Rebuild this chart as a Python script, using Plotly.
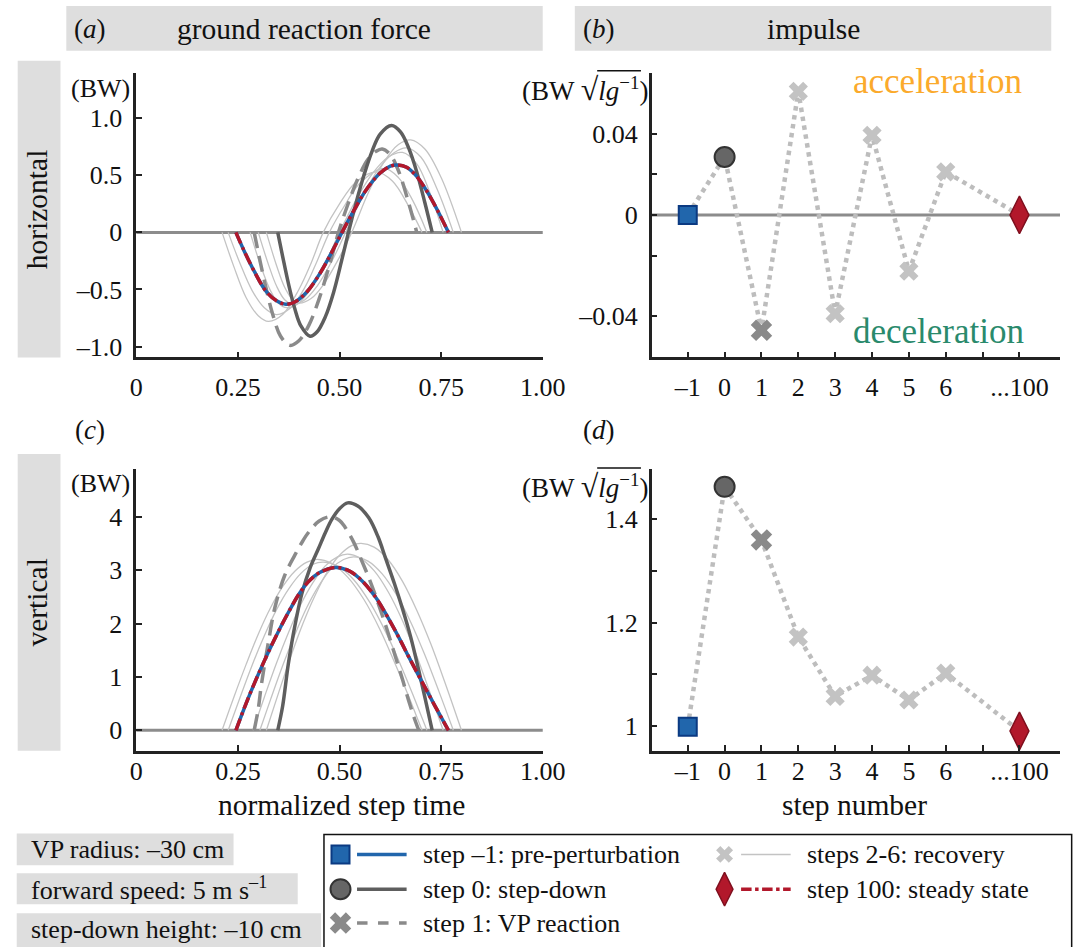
import plotly.graph_objects as go

W, H = 1083, 947
FONT = "Liberation Serif"

# ------------------------------------------------------------------ data
# (a) horizontal ground reaction force (BW) vs normalized step time
hz_pre_t = [0.245, 0.265, 0.29, 0.32, 0.345, 0.368, 0.39, 0.42, 0.45, 0.48, 0.506,
            0.535, 0.565, 0.60, 0.625, 0.642, 0.665, 0.69, 0.715, 0.74, 0.768]
hz_pre_f = [0, -0.16, -0.34, -0.52, -0.60, -0.63, -0.61, -0.52, -0.37, -0.18, 0,
            0.19, 0.37, 0.52, 0.58, 0.59, 0.57, 0.49, 0.36, 0.20, 0]
hz_ss_t = hz_pre_t
hz_ss_f = [0, -0.16, -0.34, -0.52, -0.60, -0.63, -0.61, -0.52, -0.37, -0.18, 0,
           0.19, 0.37, 0.52, 0.58, 0.59, 0.57, 0.49, 0.36, 0.20, 0]
hz_s0_t = [0.348, 0.36, 0.375, 0.39, 0.405, 0.4275, 0.445, 0.465, 0.485, 0.505, 0.522,
           0.54, 0.56, 0.58, 0.60, 0.628, 0.65, 0.67, 0.69, 0.71, 0.728]
hz_s0_f = [0, -0.21, -0.46, -0.67, -0.82, -0.91, -0.87, -0.74, -0.53, -0.25, 0,
           0.25, 0.50, 0.71, 0.86, 0.936, 0.88, 0.74, 0.53, 0.26, 0]
hz_s1_t = [0.29, 0.305, 0.32, 0.335, 0.355, 0.378, 0.40, 0.425, 0.45, 0.475, 0.4975,
           0.52, 0.545, 0.57, 0.59, 0.605, 0.625, 0.645, 0.67, 0.69]
hz_s1_f = [0, -0.26, -0.50, -0.71, -0.91, -0.99, -0.95, -0.81, -0.58, -0.29, 0,
           0.24, 0.47, 0.64, 0.71, 0.73, 0.68, 0.54, 0.26, 0]
hz_rec_t = [
    [0.211, 0.24, 0.27, 0.30, 0.325, 0.36, 0.40, 0.43, 0.46, 0.50, 0.54, 0.59, 0.63, 0.67, 0.703],
    [0.226, 0.255, 0.285, 0.315, 0.345, 0.38, 0.415, 0.445, 0.475, 0.51, 0.55, 0.61, 0.645, 0.68, 0.715],
    [0.28, 0.305, 0.33, 0.35, 0.37, 0.40, 0.43, 0.465, 0.50, 0.54, 0.58, 0.62, 0.655, 0.69, 0.72, 0.755],
    [0.30, 0.325, 0.345, 0.365, 0.385, 0.415, 0.445, 0.48, 0.515, 0.555, 0.595, 0.635, 0.665, 0.70, 0.74, 0.78],
    [0.32, 0.345, 0.365, 0.385, 0.40, 0.43, 0.46, 0.495, 0.53, 0.57, 0.61, 0.645, 0.675, 0.71, 0.75, 0.80],
]
hz_rec_f = [
    [0, -0.30, -0.57, -0.73, -0.78, -0.72, -0.50, -0.27, 0, 0.25, 0.44, 0.53, 0.45, 0.23, 0],
    [0, -0.27, -0.51, -0.66, -0.72, -0.66, -0.48, -0.25, 0, 0.22, 0.43, 0.56, 0.48, 0.28, 0],
    [0, -0.28, -0.51, -0.62, -0.66, -0.62, -0.49, -0.27, 0, 0.28, 0.51, 0.66, 0.70, 0.60, 0.37, 0],
    [0, -0.28, -0.47, -0.59, -0.63, -0.59, -0.47, -0.26, 0, 0.30, 0.55, 0.70, 0.74, 0.66, 0.38, 0],
    [0, -0.29, -0.48, -0.59, -0.62, -0.58, -0.46, -0.25, 0, 0.34, 0.62, 0.77, 0.81, 0.73, 0.48, 0],
]

# (c) vertical ground reaction force (BW)
vt_pre_t = [0.245, 0.27, 0.29, 0.315, 0.341, 0.37, 0.40, 0.423, 0.45, 0.49, 0.52,
            0.55, 0.588, 0.62, 0.65, 0.67, 0.70, 0.736, 0.768]
vt_pre_f = [0, 0.5, 0.87, 1.3, 1.72, 2.15, 2.55, 2.78, 2.95, 3.05, 3.0,
            2.84, 2.5, 2.1, 1.68, 1.38, 0.95, 0.44, 0]
vt_ss_t = vt_pre_t
vt_ss_f = [0, 0.5, 0.87, 1.3, 1.72, 2.15, 2.55, 2.78, 2.95, 3.05, 3.0,
           2.84, 2.5, 2.1, 1.68, 1.38, 0.95, 0.44, 0]
vt_s0_t = [0.348, 0.36, 0.374, 0.39, 0.407, 0.428, 0.448, 0.465, 0.481, 0.50, 0.52,
           0.545, 0.572, 0.595, 0.613, 0.635, 0.654, 0.675, 0.695, 0.712, 0.728]
vt_s0_f = [0, 0.45, 1.24, 1.95, 2.55, 3.05, 3.4, 3.7, 3.95, 4.15, 4.26,
           4.2, 3.98, 3.62, 3.23, 2.75, 2.3, 1.75, 1.12, 0.55, 0]
vt_s1_t = [0.29, 0.30, 0.308, 0.325, 0.341, 0.365, 0.39, 0.41, 0.423, 0.45, 0.477,
           0.50, 0.514, 0.535, 0.555, 0.575, 0.596, 0.618, 0.638, 0.655, 0.67, 0.683, 0.695]
vt_s1_f = [0, 0.4, 0.87, 1.65, 2.3, 2.9, 3.28, 3.55, 3.7, 3.92, 4.0,
           3.93, 3.8, 3.52, 3.17, 2.8, 2.36, 1.86, 1.37, 0.95, 0.56, 0.25, 0]
vt_rec_t = [
    [0.211, 0.24, 0.27, 0.30, 0.33, 0.36, 0.39, 0.42, 0.445, 0.48, 0.52, 0.56, 0.60, 0.64, 0.67, 0.703],
    [0.226, 0.255, 0.285, 0.315, 0.345, 0.375, 0.405, 0.435, 0.46, 0.495, 0.535, 0.575, 0.615, 0.655, 0.685, 0.715],
    [0.287, 0.315, 0.345, 0.375, 0.405, 0.435, 0.465, 0.495, 0.52, 0.55, 0.585, 0.62, 0.655, 0.69, 0.72, 0.755],
    [0.304, 0.33, 0.36, 0.39, 0.42, 0.45, 0.48, 0.51, 0.535, 0.57, 0.605, 0.64, 0.675, 0.71, 0.745, 0.78],
    [0.32, 0.35, 0.38, 0.41, 0.44, 0.47, 0.50, 0.53, 0.553, 0.585, 0.62, 0.655, 0.69, 0.725, 0.76, 0.80],
]
vt_rec_f = [
    [0, 0.62, 1.23, 1.80, 2.29, 2.69, 2.98, 3.15, 3.2, 3.13, 2.87, 2.45, 1.88, 1.19, 0.64, 0],
    [0, 0.61, 1.22, 1.77, 2.26, 2.65, 2.94, 3.11, 3.15, 3.08, 2.82, 2.39, 1.82, 1.14, 0.58, 0],
    [0, 0.62, 1.26, 1.84, 2.36, 2.77, 3.08, 3.25, 3.3, 3.23, 2.99, 2.59, 2.05, 1.39, 0.76, 0],
    [0, 0.57, 1.21, 1.79, 2.31, 2.72, 3.03, 3.20, 3.25, 3.17, 2.93, 2.54, 2.03, 1.41, 0.72, 0],
    [0, 0.70, 1.38, 2.00, 2.53, 2.97, 3.28, 3.46, 3.5, 3.43, 3.19, 2.79, 2.25, 1.61, 0.88, 0],
]

# (b), (d) impulse per step (BW sqrt(l/g))
step_x = [-1, 0, 1, 2, 3, 4, 5, 6, 8]           # 8 stands for step 100
impulse_horizontal = [0.0, 0.0285, -0.0568, 0.0608, -0.0486, 0.0392, -0.0277, 0.0212, 0.0]
impulse_vertical = [0.998, 1.463, 1.360, 1.172, 1.057, 1.098, 1.050, 1.102, 0.990]
step_tick_vals = [-1, 0, 1, 2, 3, 4, 5, 6, 7, 8]
step_tick_text = ["–1", "0", "1", "2", "3", "4", "5", "6", " ", "...100"]

time_tick_vals = [0, 0.25, 0.5, 0.75, 1.0]
time_tick_text = ["0", "0.25", "0.50", "0.75", "1.00"]
hz_tick_vals = [-1.0, -0.5, 0, 0.5, 1.0]
hz_tick_text = ["–1.0", "–0.5", "0", "0.5", "1.0"]
vt_tick_vals = [0, 1, 2, 3, 4]
vt_tick_text = ["0", "1", "2", "3", "4"]
# the reference draws its lowest labelled tick ("–0.04") lower than the even tick spacing
ih_tick_vals = [-0.0499, -0.02, 0, 0.02, 0.04]
ih_tick_text = ["–0.04", " ", "0", " ", "0.04"]
iv_tick_vals = [1.0, 1.1, 1.2, 1.3, 1.4]
iv_tick_text = ["1", " ", "1.2", " ", "1.4"]

# ------------------------------------------------------------------ styles
BLUE = "#2166ac"
RED = "#b2182b"
DARK = "#5e5e5e"
MID = "#8a8a8a"
LIGHT = "#c3c3c3"
DOT = "#bdbdbd"
ZERO = "#8c8c8c"
AX = "#222222"
BAR = "#dedede"


def px(x):
    return x / W


def py(y):
    return 1 - y / H


fig = go.Figure()


def grf_traces(xa, ya, rec_t, rec_f, s1_t, s1_f, s0_t, s0_f, pre_t, pre_f, ss_t, ss_f):
    for t, f in zip(rec_t, rec_f):
        fig.add_trace(go.Scatter(x=t, y=f, mode="lines", line=dict(color=LIGHT, width=1.3, shape="spline"),
                                 xaxis=xa, yaxis=ya, showlegend=False, hoverinfo="skip"))
    fig.add_trace(go.Scatter(x=s1_t, y=s1_f, mode="lines",
                             line=dict(color=MID, width=3.5, dash="16px,8px", shape="spline"),
                             xaxis=xa, yaxis=ya, showlegend=False))
    fig.add_trace(go.Scatter(x=s0_t, y=s0_f, mode="lines", line=dict(color=DARK, width=3.5, shape="spline"),
                             xaxis=xa, yaxis=ya, showlegend=False))
    fig.add_trace(go.Scatter(x=pre_t, y=pre_f, mode="lines", line=dict(color=BLUE, width=3.5, shape="spline"),
                             xaxis=xa, yaxis=ya, showlegend=False))
    fig.add_trace(go.Scatter(x=ss_t, y=ss_f, mode="lines",
                             line=dict(color=RED, width=3.5, dash="12px,4px,3px,4px", shape="spline"),
                             xaxis=xa, yaxis=ya, showlegend=False))


grf_traces("x", "y", hz_rec_t, hz_rec_f, hz_s1_t, hz_s1_f, hz_s0_t, hz_s0_f,
           hz_pre_t, hz_pre_f, hz_ss_t, hz_ss_f)
grf_traces("x3", "y3", vt_rec_t, vt_rec_f, vt_s1_t, vt_s1_f, vt_s0_t, vt_s0_f,
           vt_pre_t, vt_pre_f, vt_ss_t, vt_ss_f)


def impulse_traces(xa, ya, vals):
    fig.add_trace(go.Scatter(x=step_x, y=vals, mode="lines", line=dict(color=DOT, width=4.5, dash="dot"),
                             xaxis=xa, yaxis=ya, showlegend=False))
    fig.add_trace(go.Scatter(x=step_x[3:8], y=vals[3:8], mode="markers",
                             marker=dict(symbol="x", size=17, color=LIGHT, line=dict(width=0)),
                             xaxis=xa, yaxis=ya, showlegend=False))
    fig.add_trace(go.Scatter(x=[step_x[2]], y=[vals[2]], mode="markers",
                             marker=dict(symbol="x", size=19, color=MID, line=dict(width=0)),
                             xaxis=xa, yaxis=ya, showlegend=False))
    fig.add_trace(go.Scatter(x=[step_x[1]], y=[vals[1]], mode="markers",
                             marker=dict(symbol="circle", size=20, color="#666666", line=dict(color="#333333", width=2)),
                             xaxis=xa, yaxis=ya, showlegend=False))
    fig.add_trace(go.Scatter(x=[step_x[0]], y=[vals[0]], mode="markers",
                             marker=dict(symbol="square", size=18, color=BLUE, line=dict(color="#0b3a82", width=2)),
                             xaxis=xa, yaxis=ya, showlegend=False))
    fig.add_trace(go.Scatter(x=[step_x[8]], y=[vals[8]], mode="markers",
                             marker=dict(symbol="diamond-tall", size=27, color=RED, line=dict(color="#7f0f1e", width=1.5)),
                             xaxis=xa, yaxis=ya, showlegend=False))


impulse_traces("x2", "y2", impulse_horizontal)
impulse_traces("x4", "y4", impulse_vertical)

# ------------------------------------------------------------------ axes
tickfont = dict(family=FONT, size=26, color="#111")
axis_common = dict(showline=True, linecolor=AX, linewidth=2.5, ticks="inside", ticklen=6, tickwidth=2,
                   tickcolor=AX, showgrid=False, zeroline=False, tickfont=tickfont, fixedrange=True)

XA = [px(133), px(551)]
XB = [px(663), 1.0]
YTOP = [py(359), py(73)]
YBOT = [py(754.3), py(470.7)]

fig.update_layout(
    xaxis=dict(domain=XA, anchor="y", range=[0, 1], tickvals=time_tick_vals, ticktext=time_tick_text,
               ticklabelstandoff=5, **axis_common),
    yaxis=dict(domain=YTOP, anchor="x", range=[-1.096, 1.399], tickvals=hz_tick_vals, ticktext=hz_tick_text,
               ticklabelstandoff=6, **axis_common),
    xaxis2=dict(domain=XB, anchor="y2", range=[-1.98, 9.1], tickvals=step_tick_vals, ticktext=step_tick_text,
                ticklabelstandoff=5, **axis_common),
    yaxis2=dict(domain=YTOP, anchor="x2", range=[-0.0702, 0.0700], tickvals=ih_tick_vals, ticktext=ih_tick_text,
                ticklabelstandoff=6, **axis_common),
    xaxis3=dict(domain=XA, anchor="y3", range=[0, 1], tickvals=time_tick_vals, ticktext=time_tick_text,
                ticklabelstandoff=-5, **axis_common),
    yaxis3=dict(domain=YBOT, anchor="x3", range=[-0.39, 4.9], tickvals=vt_tick_vals, ticktext=vt_tick_text,
                ticklabelstandoff=6, **axis_common),
    xaxis4=dict(domain=XB, anchor="y4", range=[-1.98, 9.1], tickvals=step_tick_vals, ticktext=step_tick_text,
                ticklabelstandoff=-5, **axis_common),
    yaxis4=dict(domain=YBOT, anchor="x4", range=[0.951, 1.498], tickvals=iv_tick_vals, ticktext=iv_tick_text,
                ticklabelstandoff=6, **axis_common),
    # overlay axes for the legend swatches (pixel units)
    xaxis5=dict(domain=[0, 1], range=[0, W], visible=False, anchor="y5", fixedrange=True),
    yaxis5=dict(domain=[0, 1], range=[H, 0], visible=False, anchor="x5", fixedrange=True),
)

shapes = []
annotations = []


def rect(x0, y0, x1, y1, fill=BAR, line=None):
    shapes.append(dict(type="rect", xref="paper", yref="paper", x0=px(x0), x1=px(x1), y0=py(y1), y1=py(y0),
                       fillcolor=fill, line=dict(width=0) if line is None else line, layer="below"))


def text(x, y, s, size=26, color="#111", xanchor="center", angle=0):
    annotations.append(dict(x=px(x), y=py(y), xref="paper", yref="paper", text=s, showarrow=False,
                            font=dict(family=FONT, size=size, color=color), xanchor=xanchor,
                            yanchor="middle", textangle=angle, borderpad=0))


# zero lines
for xr, yr in [("x", "y"), ("x2", "y2"), ("x3", "y3")]:
    shapes.append(dict(type="line", xref=xr + " domain", yref=yr, x0=0, x1=1, y0=0, y1=0,
                       line=dict(color=ZERO, width=3), layer="below"))

# header bars
rect(61, 6, 551, 51)
rect(584, 6, 1074, 51)
text(85, 29, "(<i>a</i>)", 27)
text(305, 29, "ground reaction force", 29.5)
text(609, 29, "(<i>b</i>)", 27)
text(829, 29, "impulse", 29.5)
text(85, 432, "(<i>c</i>)", 27)
text(609, 432, "(<i>d</i>)", 27)

# row bars
rect(11, 61, 55, 359)
rect(11, 456, 55, 754)
text(31, 210, "horizontal", 29.5, angle=-90)
text(31, 605, "vertical", 29.5, angle=-90)

# units
text(96, 89, "(BW)", 26)
text(96, 486, "(BW)", 26)
for yc in (89, 488):
    text(594, yc, "(BW <span style='font-size:32px'>√</span><i>lg</i><sup>−1</sup>)", 27)
    shapes.append(dict(type="line", xref="paper", yref="paper", x0=px(607), x1=px(652), y0=py(yc - 18),
                       y1=py(yc - 18), line=dict(color="#111", width=1.5)))

text(957, 82, "acceleration", 35, color="#fbaa2c")
text(958, 333, "deceleration", 35, color="#2a8a6c")

text(344, 808, "normalized step time", 29.5)
text(872, 808, "step number", 29.5)

# info boxes
rect(10, 837, 233, 869)
rect(10, 877, 299, 908)
rect(10, 917, 323, 960)
text(24, 853, "VP radius: –30 cm", 26, xanchor="left")
text(24, 892, "forward speed: 5 m s<sup>–1</sup>", 26, xanchor="left")
text(24, 933, "step-down height: –10 cm", 26, xanchor="left")

# legend box
shapes.append(dict(type="rect", xref="paper", yref="paper", x0=px(326), x1=px(1095), y0=py(960), y1=py(838),
                   line=dict(color="#111", width=1.5), fillcolor="rgba(0,0,0,0)"))
leg_rows = [858, 893, 927]
col1, col2 = 343, 738
leg_lines = [
    (col1, leg_rows[0], BLUE, "solid", 3.5, "step –1: pre-perturbation"),
    (col1, leg_rows[1], DARK, "solid", 3.5, "step 0: step-down"),
    (col1, leg_rows[2], MID, "dash", 3.5, "step 1: VP reaction"),
    (col2, leg_rows[0], LIGHT, "solid", 1.5, "steps 2-6: recovery"),
    (col2, leg_rows[1], RED, "dashdot", 3.5, "step 100: steady state"),
]
for cx, cy, col, dash, wdt, lab in leg_lines:
    shapes.append(dict(type="line", xref="paper", yref="paper", x0=px(cx + 17), x1=px(cx + 68),
                       y0=py(cy), y1=py(cy), line=dict(color=col, width=wdt, dash=dash)))
    text(cx + 84, cy, lab, 26, xanchor="left")

leg_marks = [
    (col1, leg_rows[0], "square", 18, BLUE, "#0b3a82", 2),
    (col1, leg_rows[1], "circle", 20, "#666666", "#333333", 2),
    (col1, leg_rows[2], "x", 19, MID, MID, 0),
    (col2, leg_rows[0], "x", 15, LIGHT, LIGHT, 0),
    (col2, leg_rows[1], "diamond-tall", 24, RED, "#7f0f1e", 1.5),
]
for cx, cy, sym, sz, col, lc, lw in leg_marks:
    fig.add_trace(go.Scatter(x=[cx], y=[cy], mode="markers", xaxis="x5", yaxis="y5", showlegend=False,
                             marker=dict(symbol=sym, size=sz, color=col, line=dict(color=lc, width=lw)),
                             hoverinfo="skip"))

fig.update_layout(
    width=W, height=H, autosize=False, margin=dict(l=0, r=0, t=0, b=0, pad=0),
    paper_bgcolor="white", plot_bgcolor="rgba(0,0,0,0)",
    shapes=shapes, annotations=annotations, showlegend=False,
    font=dict(family=FONT, color="#111"),
)

fig.write_html("out.html", config={"responsive": False, "displayModeBar": False})
